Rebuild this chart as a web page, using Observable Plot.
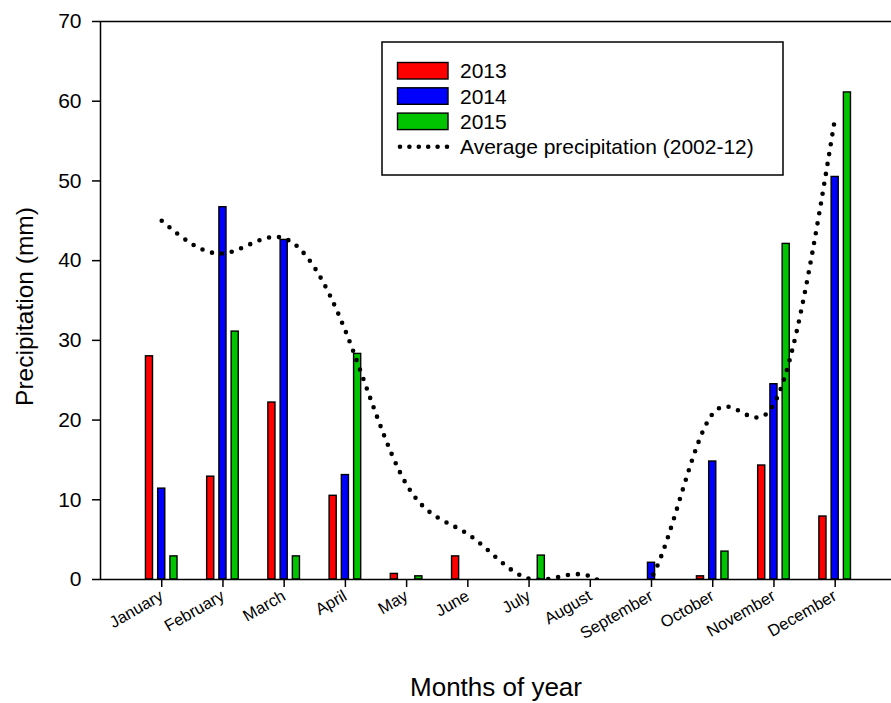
<!DOCTYPE html>
<html>
<head>
<meta charset="utf-8">
<script src="https://cdn.jsdelivr.net/npm/d3@7"></script>
<script src="https://cdn.jsdelivr.net/npm/@observablehq/plot@0.6"></script>
<style>
  body { margin: 0; background: #fff; }
  #chart { width: 891px; height: 703px; }
  svg { font-family: "Liberation Sans", Arial, sans-serif; }
</style>
</head>
<body>
<div id="chart"></div>
<script>
const months = ["January","February","March","April","May","June","July","August","September","October","November","December"];
const years = ["2013","2014","2015"];
const colors = ["#ff0000","#0000ff","#00c400"];
const p2013 = [28.0, 12.9, 22.2, 10.5, 0.7, 2.9, 0, 0, 0, 0.4, 14.3, 7.9];
const p2014 = [11.4, 46.7, 42.6, 13.1, 0, 0, 0, 0, 2.1, 14.8, 24.5, 50.5];
const p2015 = [2.9, 31.1, 2.9, 28.3, 0.4, 0, 3.0, 0, 0, 3.5, 42.1, 61.1];
const avgPrecip = [45.0, 40.9, 42.8, 31.2, 11.9, 5.7, 0.1, 0.4, 0.2, 20.8, 22.0, 58.0];
const avgLabel = "Average precipitation (2002-12)";
const yTicks = [0, 10, 20, 30, 40, 50, 60, 70];

const series = [p2013, p2014, p2015];
const offsets = [-0.2, 0, 0.2];
const halfW = 0.058;
const bars = [];
series.forEach((vals, s) => vals.forEach((v, i) => {
  if (v > 0) bars.push({m: i + 1, year: years[s], s, v});
}));
const avg = avgPrecip.map((v, i) => ({m: i + 1, v}));

const font = "'Liberation Sans', Arial, sans-serif";

const chart = Plot.plot({
  width: 891,
  height: 703,
  marginLeft: 100,
  marginRight: 0,
  marginTop: 21,
  marginBottom: 124,
  style: {fontFamily: font, background: "#fff", color: "#000"},
  x: {type: "linear", domain: [0, 12.92], axis: null},
  y: {domain: [0, 70], axis: null},
  color: {domain: years, range: colors},
  marks: [
    Plot.rectY(bars, {
      x1: d => d.m + offsets[d.s] - halfW,
      x2: d => d.m + offsets[d.s] + halfW,
      y1: 0,
      y2: "v",
      fill: "year",
      stroke: "#000",
      strokeWidth: 1.4
    }),
    Plot.line(avg, {
      x: "m", y: "v", curve: "natural",
      stroke: "#000", strokeWidth: 4.6,
      strokeDasharray: "0 10", strokeLinecap: "round",
      clip: true
    }),
    Plot.ruleX([0], {stroke: "#000", strokeWidth: 1.5}),
    Plot.ruleY([0], {stroke: "#000", strokeWidth: 1.5}),
    Plot.ruleY([70], {stroke: "#000", strokeWidth: 1.5}),
    Plot.axisY({
      ticks: yTicks, tickSize: 8, tickPadding: 11,
      fontSize: 21, label: null, stroke: "#000", strokeWidth: 1.5
    }),
    Plot.axisX({
      ticks: d3.range(1, 13), tickFormat: i => months[i - 1],
      tickRotate: -30, tickSize: 8, tickPadding: 7,
      fontSize: 16.5, label: null, stroke: "#000", strokeWidth: 1.5
    }),
    Plot.text(["Months of year"], {
      frameAnchor: "bottom", dy: 116, fontSize: 26, fill: "#000", text: d => d
    }),
    Plot.text(["Precipitation (mm)"], {
      frameAnchor: "left", textAnchor: "middle", dx: -75, dy: 6, rotate: -90,
      fontSize: 24.5, fill: "#000", text: d => d
    })
  ]
});

document.getElementById("chart").appendChild(chart);

// Legend inside the plot area
const svg = d3.select(chart.tagName.toLowerCase() === "svg" ? chart : chart.querySelector("svg"));
const lg = svg.append("g").attr("font-family", font).attr("font-size", 21).attr("text-anchor", "start");
lg.append("rect").attr("x", 382).attr("y", 42).attr("width", 401).attr("height", 133)
  .attr("fill", "#fff").attr("stroke", "#000").attr("stroke-width", 1.5);
years.forEach((y, i) => {
  lg.append("rect").attr("x", 397.5).attr("y", 62.5 + i * 25.3).attr("width", 50.5).attr("height", 16.5)
    .attr("fill", colors[i]).attr("stroke", "#000").attr("stroke-width", 1.4);
  lg.append("text").attr("x", 460).attr("y", 78.3 + i * 25.3).attr("fill", "#000").attr("text-anchor", "start").text(y);
});
lg.append("line").attr("x1", 400).attr("x2", 447).attr("y1", 146.7).attr("y2", 146.7)
  .attr("stroke", "#000").attr("stroke-width", 4.6).attr("stroke-dasharray", "0 9.4").attr("stroke-linecap", "round");
lg.append("text").attr("x", 460).attr("y", 154).attr("fill", "#000").attr("text-anchor", "start").text(avgLabel);
</script>
</body>
</html>
